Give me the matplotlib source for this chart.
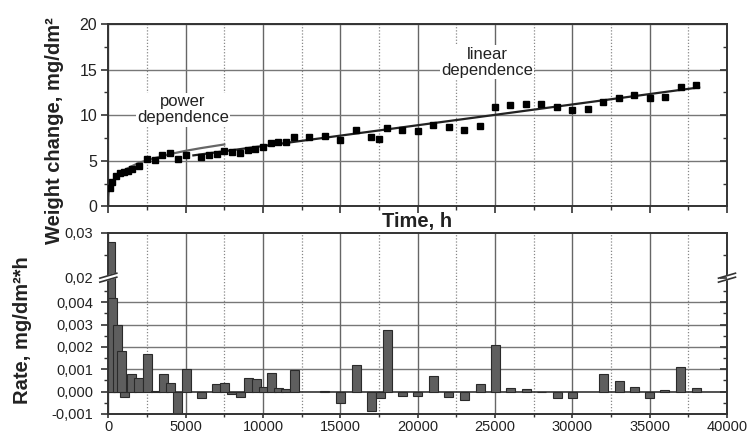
import numpy as np
import matplotlib
matplotlib.use('Agg')
import matplotlib.pyplot as plt
from matplotlib.ticker import MultipleLocator, FixedLocator, FixedFormatter

plt.rcParams['font.family'] = ['Liberation Sans', 'DejaVu Sans']

# weight change measurements (h, mg/dm2)
time_w = [100, 250, 500, 750, 1000, 1250, 1500, 2000, 2500, 3000, 3500, 4000, 4500,
          5000, 6000, 6500, 7000, 7500, 8000, 8500, 9000, 9500, 10000, 10500, 11000,
          11500, 12000, 13000, 14000, 15000, 16000, 17000, 17500, 18000, 19000, 20000,
          21000, 22000, 23000, 24000, 25000, 26000, 27000, 28000, 29000, 30000, 31000,
          32000, 33000, 34000, 35000, 36000, 37000, 38000]
weight = [2.0, 2.7, 3.35, 3.7, 3.8, 3.9, 4.1, 4.4, 5.25, 5.1, 5.6, 5.85, 5.25,
          5.65, 5.45, 5.6, 5.75, 6.1, 6.0, 5.9, 6.2, 6.35, 6.55, 6.95, 7.05,
          7.1, 7.6, 7.6, 7.75, 7.25, 8.4, 7.6, 7.45, 8.6, 8.4, 8.25,
          8.95, 8.75, 8.4, 8.8, 10.85, 11.1, 11.2, 11.2, 10.85, 10.6, 10.7,
          11.4, 11.9, 12.2, 11.85, 12.0, 13.1, 13.3]

# fitted curves
power_t = [0, 5, 20, 50, 100, 250, 500, 1000, 1500, 2000, 3000, 4000, 5000, 6000, 7500]
power_w = [0, 1.0, 1.4, 1.8, 2.1, 2.7, 3.3, 3.95, 4.4, 4.8, 5.3, 5.75, 6.1, 6.4, 6.8]
linear_t = [5500, 38200]
linear_w = [5.6, 13.05]

# oxidation rate (mg/dm2*h)
time_r = [140, 240, 580, 830, 1070, 1500, 1980, 2530, 3030, 3550, 4030, 4490, 5050,
          6000, 6970, 7500, 7970, 8520, 9035, 9550, 10005, 10520, 11030, 11460, 12030,
          14000, 15000, 16020, 17010, 17600, 18030, 19030, 20020, 21020, 22010, 23010,
          24040, 25010, 26020, 27040, 28030, 29030, 30030, 32030, 33030, 34000, 35010,
          35990, 37010, 38010]
rate = [0.028, 0.0042, 0.003, 0.0018, -0.00025, 0.0008, 0.0006, 0.0017, 0.00003, 0.0008,
        0.00037, -0.0011, 0.001, -0.0003, 0.00035, 0.00037, -0.0001, -0.00022, 0.0006,
        0.00055, 0.0002, 0.00082, 0.00015, 0.0001, 0.00095, 0.00003, -0.0005, 0.00117,
        -0.00086, -0.00028, 0.00275, -0.0002, -0.0002, 0.0007, -0.00024, -0.00036,
        0.00036, 0.00209, 0.00018, 0.0001, -0.00002, -0.00028, -0.00028, 0.00077,
        0.00046, 0.00021, -0.00028, 0.00006, 0.0011, 0.00016]

rate_ticks = [-0.001, 0.0, 0.001, 0.002, 0.003, 0.004, 0.02, 0.03]
rate_labels = ['-0,001', '0,000', '0,001', '0,002', '0,003', '0,004', '0,02', '0,03']
rate_minor = [-0.0005, 0.0005, 0.0015, 0.0025, 0.0035, 0.0045, 0.025]


# broken axis: -0.001..0.005 stretched, 0.02..0.03 compressed
def fwd(y):
    y = np.asarray(y, dtype=float)
    return np.where(y <= 0.005, y * 1000,
                    np.where(y >= 0.02, 5.1 + (y - 0.02) * 200, 5 + (y - 0.005) / 0.015 * 0.1))


def inv(z):
    z = np.asarray(z, dtype=float)
    return np.where(z <= 5, z / 1000,
                    np.where(z >= 5.1, 0.02 + (z - 5.1) / 200, 0.005 + (z - 5) / 0.1 * 0.015))


dark = '#333333'
fig = plt.figure(figsize=(7.48, 4.36), dpi=100)
ax1 = fig.add_axes([0.1448, 0.5264, 0.8271, 0.4186])
ax2 = fig.add_axes([0.1448, 0.0505, 0.8271, 0.4151])

for ax in (ax1, ax2):
    ax.set_xlim(0, 40000)
    ax.xaxis.set_major_locator(MultipleLocator(5000))
    ax.xaxis.set_minor_locator(MultipleLocator(2500))
    ax.grid(True, which='major', axis='x', color='#666666', lw=1.0)
    ax.grid(True, which='minor', axis='x', color='#888888', lw=0.9, ls=(0, (1, 1.5)))
    ax.set_axisbelow(True)
    for s in ax.spines.values():
        s.set_color(dark)
        s.set_linewidth(1.4)
    ax.tick_params(which='major', direction='out', length=5, width=1.2, color=dark, labelcolor='#222222')
    ax.tick_params(which='minor', direction='out', length=3, width=1.0, color=dark)

# --- top panel: weight change
ax1.set_ylim(0, 20)
ax1.yaxis.set_major_locator(MultipleLocator(5))
ax1.yaxis.set_minor_locator(MultipleLocator(2.5))
ax1.grid(True, which='major', axis='y', color='#777777', lw=1.0)
ax1.tick_params(axis='y', labelsize=11.5, pad=3)
ax1.tick_params(axis='x', labelbottom=False)
ax1.plot(power_t, power_w, color='#666666', lw=1.6, zorder=2)
ax1.plot(linear_t, linear_w, color='#222222', lw=1.6, zorder=2)
ax1.plot(time_w, weight, 's', color='black', ms=4.0, zorder=3)
ax1.text(4830, 10.6, 'power\ndependence', ha='center', va='center', fontsize=12,
         linespacing=1.1, color='#222222',
         bbox=dict(facecolor='white', edgecolor='none', pad=1), zorder=4)
ax1.text(24480, 15.8, 'linear\ndependence', ha='center', va='center', fontsize=12,
         linespacing=1.1, color='#222222',
         bbox=dict(facecolor='white', edgecolor='none', pad=1), zorder=4)

r1 = ax1.twinx()
r1.set_ylim(0, 20)
r1.yaxis.set_major_locator(MultipleLocator(5))
r1.yaxis.set_minor_locator(MultipleLocator(2.5))
r1.tick_params(which='both', direction='in', labelright=False, color=dark)
r1.tick_params(which='major', length=5, width=1.2)
r1.tick_params(which='minor', length=3, width=1.0)
for s in r1.spines.values():
    s.set_visible(False)

# --- bottom panel: rate
ax2.set_yscale('function', functions=(fwd, inv))
ax2.set_ylim(-0.001, 0.03)
ax2.yaxis.set_major_locator(FixedLocator(rate_ticks))
ax2.yaxis.set_major_formatter(FixedFormatter(rate_labels))
ax2.yaxis.set_minor_locator(FixedLocator(rate_minor))
ax2.tick_params(axis='y', labelsize=10.5, pad=6)
ax2.tick_params(axis='x', which='major', length=3, labelsize=10.5, pad=1)
ax2.tick_params(axis='x', which='minor', length=2)
for v in [0.001, 0.002, 0.003, 0.004]:
    ax2.axhline(v, color='#777777', lw=1.0, zorder=0.5)
ax2.axhline(0, color=dark, lw=1.2, zorder=0.6)
ax2.bar(time_r, rate, width=580, color='#5e5e5e', edgecolor='#2a2a2a', lw=0.8, zorder=2)

r2 = ax2.twinx()
r2.set_yscale('function', functions=(fwd, inv))
r2.set_ylim(-0.001, 0.03)
r2.yaxis.set_major_locator(FixedLocator(rate_ticks))
r2.yaxis.set_minor_locator(FixedLocator(rate_minor))
r2.tick_params(which='both', direction='in', labelright=False, color=dark)
r2.tick_params(which='major', length=5, width=1.2)
r2.tick_params(which='minor', length=3, width=1.0)
for s in r2.spines.values():
    s.set_visible(False)

# break marks on both sides
yb = float((fwd(0.02) - fwd(-0.001)) / (fwd(0.03) - fwd(-0.001)))
dx, dy, off = 0.0137, 0.0137, 0.011
for xs in (0.0, 1.0):
    xx = [xs - dx, xs + dx]
    ax2.fill([xs - dx, xs + dx, xs + dx, xs - dx],
             [yb - dy - off, yb + dy - off, yb + dy + off, yb - dy + off],
             color='white', transform=ax2.transAxes, clip_on=False, zorder=10)
    for o in (-off, off):
        ax2.plot(xx, [yb - dy + o, yb + dy + o], color=dark, lw=1.2,
                 transform=ax2.transAxes, clip_on=False, zorder=11)

# axis titles
fig.text(55 / 748, 1 - 131 / 436, 'Weight change, mg/dm²', rotation=90, ha='center', va='center',
         fontsize=14.5, fontweight='bold', color='#222222')
fig.text(23 / 748, 1 - 330 / 436, 'Rate, mg/dm²*h', rotation=90, ha='center', va='center',
         fontsize=14.5, fontweight='bold', color='#222222')
fig.text(417 / 748, 1 - 222 / 436, 'Time, h', ha='center', va='center',
         fontsize=14.5, fontweight='bold', color='#222222')

fig.savefig('out.png', dpi=100)
